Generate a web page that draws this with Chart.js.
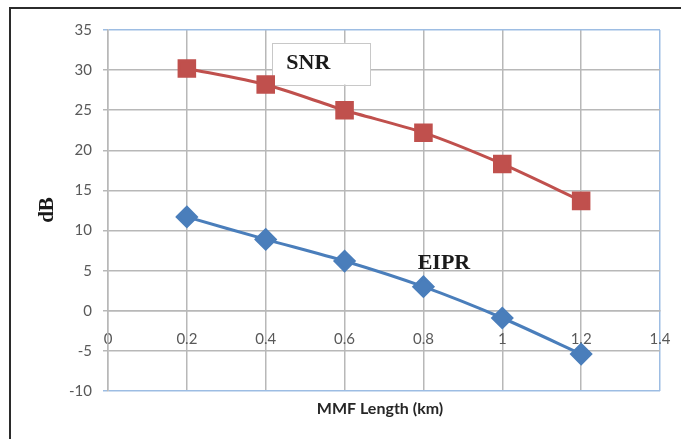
<!DOCTYPE html>
<html>
<head>
<meta charset="utf-8">
<script src="https://cdn.jsdelivr.net/npm/chart.js@4.4.1/dist/chart.umd.min.js"></script>
<style>
  html, body { margin: 0; padding: 0; background: #fff; }
  #wrap { position: relative; width: 681px; height: 439px; }
</style>
</head>
<body>
<div id="wrap"><canvas id="mycanvas" width="681" height="439"></canvas></div>
<script>
// MMF length (km)
var lengths = [0.2, 0.4, 0.6, 0.8, 1.0, 1.2];
var snr = [30.2, 28.2, 25.0, 22.2, 18.3, 13.7];
var eipr = [11.7, 8.9, 6.2, 3.0, -0.9, -5.4];
var xTicks = [0, 0.2, 0.4, 0.6, 0.8, 1, 1.2, 1.4];
var yTicks = [-10, -5, 0, 5, 10, 15, 20, 25, 30, 35];

var gridGray = '#b8b8b8';
var edgeBlue = '#9dbde3';
var tickFont = { family: 'Lato, "Liberation Sans", sans-serif', size: 15 };

function pts(xs, ys) {
  var out = [];
  for (var i = 0; i < xs.length; i++) out.push({ x: xs[i], y: ys[i] });
  return out;
}

var deco = {
  id: 'deco',
  beforeDraw: function(chart) {
    var c = chart.ctx;
    c.save();
    c.strokeStyle = '#2b2b2b';
    c.lineWidth = 2;
    c.beginPath();
    c.moveTo(10, 439); c.lineTo(10, 8); c.lineTo(681, 8);
    c.stroke();
    c.restore();
  },
  beforeDatasetsDraw: function(chart) {
    var c = chart.ctx, xs = chart.scales.x, ys = chart.scales.y;
    c.save();
    // SNR label box
    var l = xs.getPixelForValue(0.416), r = xs.getPixelForValue(0.665);
    var t = ys.getPixelForValue(33.4), b = ys.getPixelForValue(28.2);
    c.fillStyle = '#fff';
    c.fillRect(l, t, r - l, b - t);
    c.strokeStyle = '#c8c8c8';
    c.lineWidth = 1;
    c.strokeRect(Math.round(l) + 0.5, Math.round(t) + 0.5, Math.round(r - l), Math.round(b - t));
    c.fillStyle = '#1a1a1a';
    c.font = 'bold 22px "Liberation Serif", serif';
    c.textAlign = 'center';
    c.textBaseline = 'middle';
    c.fillText('SNR', xs.getPixelForValue(0.508), ys.getPixelForValue(30.9));
    c.fillText('EIPR', xs.getPixelForValue(0.852), ys.getPixelForValue(5.9));
    // axis titles
    c.font = 'bold 16px Lato, "Liberation Sans", sans-serif';
    c.fillStyle = '#262626';
    c.fillText('MMF Length (km)', 380, 409);
    c.translate(48, 210);
    c.rotate(-Math.PI / 2);
    c.font = 'bold 21px "Liberation Serif", serif';
    c.fillStyle = '#1a1a1a';
    c.fillText('dB', 0, 0);
    c.restore();
  }
};

var ctx = document.getElementById('mycanvas');
var chart = new Chart(ctx, {
  type: 'line',
  data: {
    datasets: [
      {
        label: 'SNR',
        data: pts(lengths, snr),
        borderColor: '#c0504d',
        backgroundColor: '#c0504d',
        borderWidth: 3,
        pointStyle: 'rect',
        pointRadius: 11,
        pointHoverRadius: 11,
        tension: 0.25
      },
      {
        label: 'EIPR',
        data: pts(lengths, eipr),
        borderColor: '#4a7ebb',
        backgroundColor: '#4a7ebb',
        borderWidth: 3,
        pointStyle: 'rectRot',
        pointRadius: 9.5,
        pointHoverRadius: 9.5,
        tension: 0.25
      }
    ]
  },
  options: {
    responsive: false,
    animation: false,
    layout: { padding: { left: 0, top: 30, right: 21, bottom: 48 } },
    plugins: { legend: { display: false }, tooltip: { enabled: false } },
    scales: {
      x: {
        type: 'linear',
        position: { y: 0 },
        min: 0, max: 1.4,
        afterBuildTicks: function(s) { s.ticks = xTicks.map(function(v) { return { value: v }; }); },
        afterFit: function(s) { s.paddingLeft = 0; s.paddingRight = 0; },
        grid: {
          color: function(c) { return c.tick && c.tick.value === 1.4 ? edgeBlue : gridGray; },
          drawTicks: false,
          lineWidth: 1.5
        },
        border: { color: gridGray, width: 1.5 },
        ticks: {
          color: '#595959', font: tickFont, padding: 19, maxRotation: 0, autoSkip: false,
          callback: function(v) { return String(Math.round(v * 10) / 10); }
        }
      },
      y: {
        min: -10, max: 35,
        afterBuildTicks: function(s) { s.ticks = yTicks.map(function(v) { return { value: v }; }); },
        afterFit: function(s) { s.width = 108; },
        grid: {
          color: function(c) {
            if (c.tick && (c.tick.value === 35 || c.tick.value === -10)) return edgeBlue;
            return gridGray;
          },
          tickLength: 5,
          lineWidth: 1.5
        },
        border: { color: gridGray, width: 1.5 },
        ticks: { color: '#595959', font: tickFont, padding: 11 }
      }
    }
  },
  plugins: [deco]
});
</script>
</body>
</html>
